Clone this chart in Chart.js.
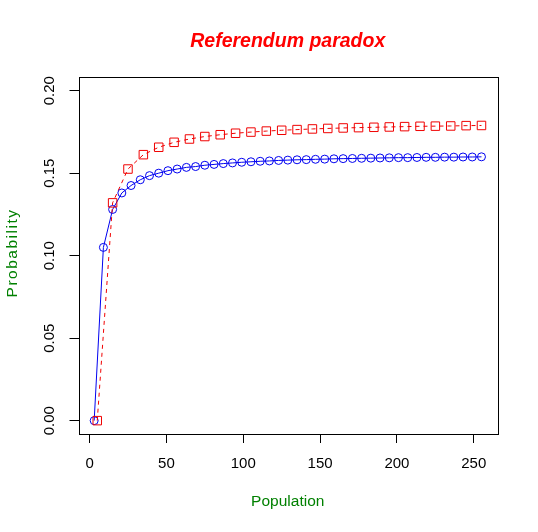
<!DOCTYPE html>
<html>
<head>
<meta charset="utf-8">
<title>Referendum paradox</title>
<script src="https://cdn.jsdelivr.net/npm/chart.js@4.4.1/dist/chart.umd.min.js"></script>
<style>
  html, body { margin: 0; padding: 0; background: #fff; }
  #wrap { width: 538px; height: 532px; }
</style>
</head>
<body>
<div id="wrap"><canvas id="chart" width="538" height="532"></canvas></div>
<script>
// populations and probabilities
const bluePop = [3, 9, 15, 21, 27, 33, 39, 45, 51, 57, 63, 69, 75, 81, 87, 93, 99, 105, 111, 117, 123,
    129, 135, 141, 147, 153, 159, 165, 171, 177, 183, 189, 195, 201, 207, 213, 219, 225, 231, 237, 243, 249, 255];
const blueProb = [0, 0.105, 0.128, 0.138, 0.1425, 0.146, 0.1485, 0.150, 0.1515, 0.1525, 0.1535, 0.154, 0.1548,
    0.1553, 0.1558, 0.1562, 0.1566, 0.1569, 0.1572, 0.1574, 0.1577, 0.1579, 0.1581, 0.1582, 0.1584, 0.1585,
    0.1587, 0.1588, 0.1589, 0.159, 0.1591, 0.1592, 0.1593, 0.1594, 0.1594, 0.1595, 0.1596, 0.1596, 0.1597,
    0.1597, 0.1598, 0.1598, 0.1599];

const redPop = [5, 15, 25, 35, 45, 55, 65, 75, 85, 95, 105, 115, 125, 135, 145, 155, 165, 175, 185, 195,
    205, 215, 225, 235, 245, 255];
const redProb = [0, 0.132, 0.1525, 0.1612, 0.1657, 0.1687, 0.1707, 0.1722, 0.1733, 0.1742, 0.1749, 0.1755,
    0.1760, 0.1764, 0.1768, 0.1771, 0.1774, 0.1776, 0.1778, 0.1780, 0.1782, 0.1784, 0.1785, 0.1786, 0.1788, 0.1789];

const xTicks = [0, 50, 100, 150, 200, 250];
const yTicks = [0, 0.05, 0.10, 0.15, 0.20];

const titleText = 'Referendum paradox';
const xTitle = 'Population';
const yTitle = 'Probability';

const FONT = "'Liberation Sans', Arial, sans-serif";

function toPoints(xs, ys) {
    return xs.map((x, i) => ({ x: x, y: ys[i] }));
}

// titles and the frame box, drawn the way R does it
const rDecorations = {
    id: 'rDecorations',
    afterDraw(chart) {
        const ctx = chart.ctx;
        const a = chart.chartArea;
        const cx = (a.left + a.right) / 2;
        ctx.save();
        ctx.strokeStyle = '#000';
        ctx.lineWidth = 1;
        ctx.strokeRect(Math.round(a.left) + 0.5, Math.round(a.top) + 0.5,
            Math.round(a.right - a.left), Math.round(a.bottom - a.top));

        ctx.fillStyle = '#ff0000';
        ctx.font = "bold italic 19.5px " + FONT;
        ctx.textAlign = 'center';
        ctx.textBaseline = 'alphabetic';
        ctx.fillText(titleText, cx, 46.5);

        ctx.fillStyle = '#008000';
        ctx.font = "15.5px " + FONT;
        ctx.textBaseline = 'middle';
        ctx.fillText(xTitle, cx, 502);

        // the Windows renderer spreads this label wider than Liberation does
        ctx.letterSpacing = '1.5px';
        ctx.translate(12.5, 253);
        ctx.rotate(-Math.PI / 2);
        ctx.fillText(yTitle, 0, 0);
        ctx.restore();
    }
};

const ctx = document.getElementById('chart').getContext('2d');
new Chart(ctx, {
    type: 'line',
    data: {
        datasets: [{
            label: 'red',
            data: toPoints(redPop, redProb),
            borderColor: '#f00000',
            backgroundColor: 'rgba(0,0,0,0)',
            borderWidth: 1,
            borderDash: [4, 4],
            pointStyle: 'rect',
            pointRadius: 6,
            pointBorderWidth: 1,
            pointBorderColor: '#f00000',
            pointBackgroundColor: 'rgba(0,0,0,0)',
            tension: 0
        }, {
            label: 'blue',
            data: toPoints(bluePop, blueProb),
            borderColor: '#0000f0',
            backgroundColor: 'rgba(0,0,0,0)',
            borderWidth: 1,
            pointStyle: 'circle',
            pointRadius: 4,
            pointBorderWidth: 1,
            pointBorderColor: '#0000f0',
            pointBackgroundColor: 'rgba(0,0,0,0)',
            tension: 0
        }]
    },
    options: {
        responsive: false,
        animation: false,
        events: [],
        layout: {
            padding: { top: 77.3, right: 41, bottom: 0, left: 0 }
        },
        scales: {
            x: {
                type: 'linear',
                min: -7.2,
                max: 265.1,
                afterBuildTicks: (s) => { s.ticks = xTicks.map(v => ({ value: v })); },
                afterFit: (s) => { s.height = 98; },
                grid: { drawOnChartArea: false, drawTicks: true, tickLength: 9, color: '#000' },
                border: { display: false },
                ticks: {
                    color: '#000',
                    padding: 12,
                    maxRotation: 0,
                    font: { family: FONT, size: 15 }
                }
            },
            y: {
                type: 'linear',
                min: -0.0081,
                max: 0.2081,
                afterBuildTicks: (s) => { s.ticks = yTicks.map(v => ({ value: v })); },
                afterFit: (s) => { s.width = 78.5; },
                grid: { drawOnChartArea: false, drawTicks: true, tickLength: 9, color: '#000' },
                border: { display: false },
                ticks: {
                    color: '#000',
                    padding: 5,
                    minRotation: 90,
                    maxRotation: 90,
                    crossAlign: 'center',
                    font: { family: FONT, size: 15 },
                    callback: (v) => v.toFixed(2)
                }
            }
        },
        plugins: {
            legend: { display: false },
            title: { display: false },
            tooltip: { enabled: false }
        }
    },
    plugins: [rDecorations]
});
</script>
</body>
</html>
